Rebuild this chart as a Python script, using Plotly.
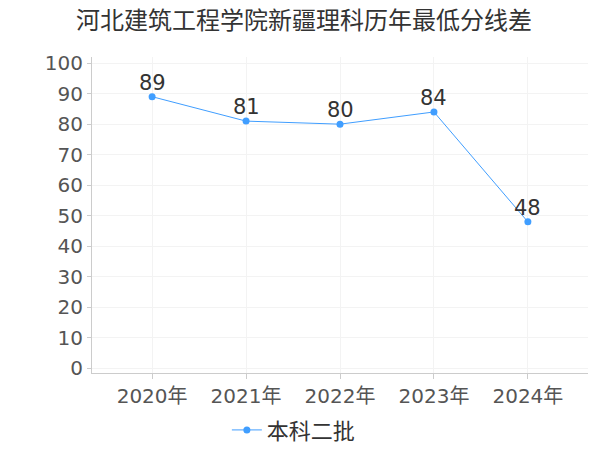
import plotly.graph_objects as go

years = ['2020年', '2021年', '2022年', '2023年', '2024年']
scores = [89, 81, 80, 84, 48]
series_name = '本科二批'
title = '河北建筑工程学院新疆理科历年最低分线差'

font = 'DejaVu Sans, Noto Sans CJK SC, sans-serif'
blue = '#409eff'

fig = go.Figure()
fig.add_trace(go.Scatter(
    x=years, y=scores, name=series_name,
    mode='lines+markers',
    line=dict(color=blue, width=1),
    marker=dict(color=blue, size=7),
))

# value labels sit right on top of the points
for yr, v in zip(years, scores):
    fig.add_annotation(x=yr, y=v, text=str(v), showarrow=False,
                       xanchor='center', yanchor='bottom', yshift=0,
                       font=dict(size=21, color='#333333', family=font))

# page has an 8px body margin, so the figure is drawn a bit smaller
fig.update_layout(
    width=592, height=442,
    paper_bgcolor='white', plot_bgcolor='white',
    title=dict(text=title, x=0.5, xanchor='center', yref='container', y=0.972, yanchor='middle',
               font=dict(size=24, color='#333333', family=font)),
    margin=dict(l=84, r=12, t=49, b=77, autoexpand=False),
    showlegend=True,
    legend=dict(orientation='h', x=0.407, xanchor='center', yref='container', y=0.045, yanchor='middle',
                font=dict(size=22, color='#333333', family=font)),
    xaxis=dict(
        range=[-0.64, 4.64], showgrid=True, gridcolor='#f3f3f3', automargin=False,
        showline=True, linecolor='#cccccc', ticks='outside', tickcolor='#cccccc', ticklen=5,
        tickfont=dict(size=20, color='#555555', family=font),
    ),
    yaxis=dict(
        range=[-1.5, 102], dtick=10, showgrid=True, gridcolor='#f3f3f3', zeroline=False,
        automargin=False,
        showline=True, linecolor='#cccccc', ticks='outside', tickcolor='#cccccc', ticklen=4,
        tickfont=dict(size=20, color='#555555', family=font),
    ),
)

fig.write_html('out.html')
